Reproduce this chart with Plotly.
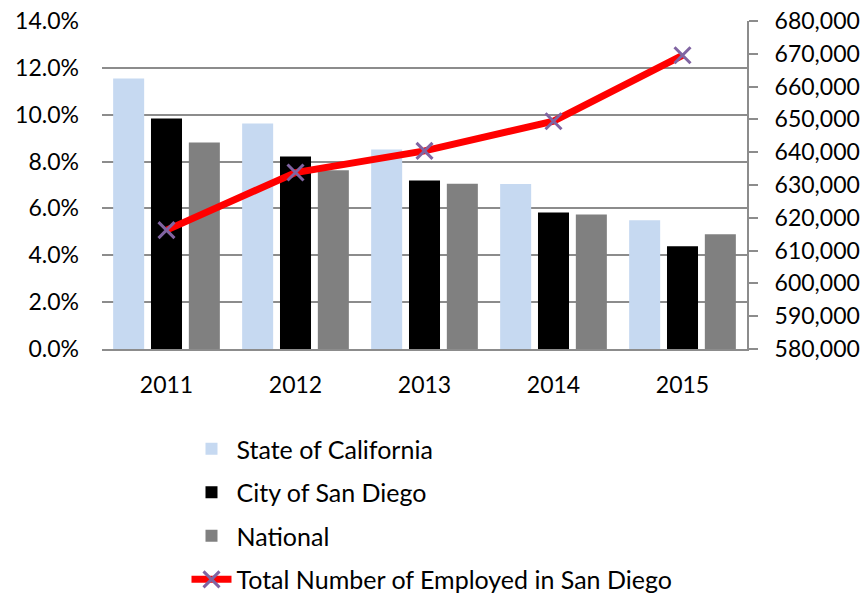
import plotly.graph_objects as go

years = ["2011", "2012", "2013", "2014", "2015"]
state_ca = [11.55, 9.62, 8.52, 7.04, 5.50]
city_sd = [9.84, 8.22, 7.19, 5.83, 4.39]
national = [8.81, 7.63, 7.05, 5.74, 4.90]
employed_sd = [616250, 633800, 640400, 649450, 669550]

left_ticks = [0, 2, 4, 6, 8, 10, 12, 14]
right_ticks = list(range(580000, 680001, 10000))

FONT = "Lato"
GRID = "#8C8C8C"

fig = go.Figure()
fig.add_trace(go.Bar(x=years, y=state_ca, name="State of California",
                     marker=dict(color="#C6D9F1", line=dict(width=0)), legendgroup="a"))
fig.add_trace(go.Bar(x=years, y=city_sd, name="City of San Diego",
                     marker=dict(color="#000000", line=dict(width=0)), legendgroup="b"))
fig.add_trace(go.Bar(x=years, y=national, name="National",
                     marker=dict(color="#808080", line=dict(width=0)), legendgroup="c"))
fig.add_trace(go.Scatter(x=years, y=employed_sd, name="Total Number of Employed in San Diego",
                         yaxis="y2", mode="lines+markers",
                         line=dict(color="#FF0000", width=7),
                         marker=dict(symbol="x-thin", size=16, color="#8064A2",
                                     line=dict(color="#8064A2", width=3)),
                         legendgroup="d"))

fig.update_layout(
    width=866, height=595,
    margin=dict(l=102, r=119, t=21, b=246, autoexpand=False),
    plot_bgcolor="white", paper_bgcolor="white",
    font=dict(family=FONT, size=23, color="#000000"),
    barmode="group", bargap=0.12, bargroupgap=0.18,
    xaxis=dict(showgrid=False, showline=True, linecolor=GRID, linewidth=2,
               ticks="", ticklabelstandoff=14, automargin=False),
    yaxis=dict(range=[0, 14], tickvals=left_ticks,
               ticktext=[f"{v:.1f}%" for v in left_ticks],
               showgrid=True, gridcolor=GRID, gridwidth=2,
               zeroline=False, showline=False, ticks="",
               ticklabelstandoff=22, automargin=False),
    yaxis2=dict(range=[580000, 680000], tickvals=right_ticks,
                tickformat=",", overlaying="y", side="right",
                showgrid=False, zeroline=False,
                showline=True, linecolor=GRID, linewidth=2,
                ticks="outside", ticklen=9, tickwidth=2, tickcolor=GRID,
                ticklabelstandoff=12, automargin=False),
    legend=dict(x=0.131, xanchor="left", y=-0.235, yanchor="top",
                orientation="v", tracegroupgap=8,
                font=dict(family=FONT, size=25), itemwidth=40,
                bgcolor="rgba(0,0,0,0)"),
)

fig.write_html("out.html", config={"displayModeBar": False},
               post_script="document.body.style.margin='0px';")
